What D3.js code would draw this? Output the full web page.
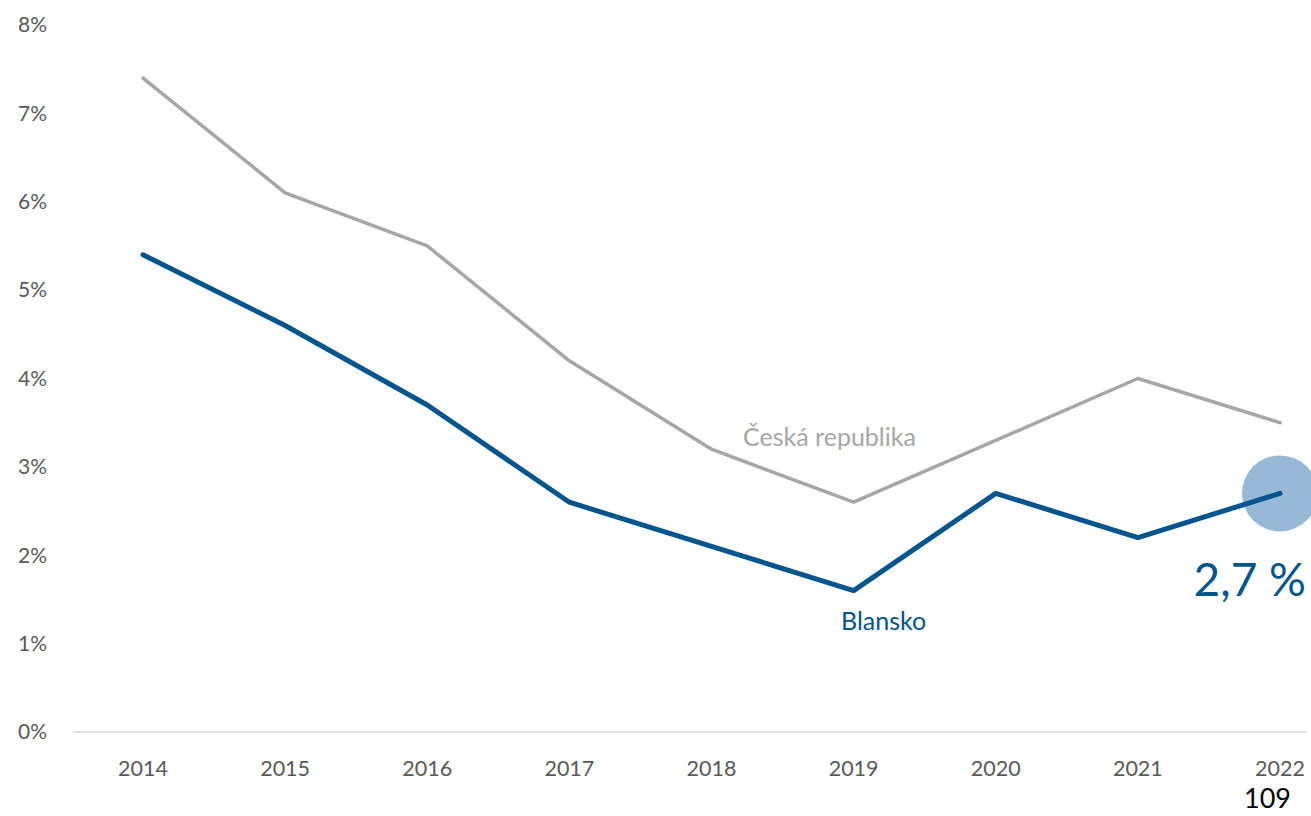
<!DOCTYPE html>
<html>
<head>
<meta charset="utf-8">
<script src="https://cdn.jsdelivr.net/npm/d3@7"></script>
<style>
  html, body { margin: 0; padding: 0; background: #fff; }
  svg { display: block; font-family: Lato, "Open Sans", sans-serif; }
</style>
</head>
<body>
<svg id="chart" width="1311" height="816"></svg>
<script>
// Unemployment share, 2014–2022
const years = [2014, 2015, 2016, 2017, 2018, 2019, 2020, 2021, 2022];
const ceskaRepublika = [7.4, 6.1, 5.5, 4.2, 3.2, 2.6, 3.3, 4.0, 3.5];
const blansko = [5.4, 4.6, 3.7, 2.6, 2.1, 1.6, 2.7, 2.2, 2.7];
const yTicks = [0, 1, 2, 3, 4, 5, 6, 7, 8];
const seriesNames = ["Česká republika", "Blansko"];
const lastValueLabel = "2,7 %";
const pageNumber = "109";

const svg = d3.select("#chart");

const x = d3.scalePoint().domain(years).range([143, 1280]);
const y = d3.scaleLinear().domain([0, 8]).range([732, 25]);

// baseline
svg.append("line")
  .attr("x1", 73).attr("x2", 1307)
  .attr("y1", y(0)).attr("y2", y(0))
  .attr("stroke", "#d9d9d9").attr("stroke-width", 1.5);

// y axis labels
svg.append("g").selectAll("text").data(yTicks).join("text")
  .attr("x", 47).attr("y", d => y(d))
  .attr("dy", "0.35em")
  .attr("text-anchor", "end")
  .attr("fill", "#595959")
  .attr("font-size", 21)
  .text(d => d + "%");

// x axis labels
svg.append("g").selectAll("text").data(years).join("text")
  .attr("x", d => x(d)).attr("y", 776)
  .attr("text-anchor", "middle")
  .attr("fill", "#595959")
  .attr("font-size", 21.5)
  .text(d => d);

const line = d3.line().x((d, i) => x(years[i])).y(d => y(d));

// highlight circle at final Blansko value
svg.append("circle")
  .attr("cx", x(years[years.length - 1]))
  .attr("cy", y(blansko[blansko.length - 1]))
  .attr("r", 38)
  .attr("fill", "#97b9d5");

svg.append("path").datum(ceskaRepublika)
  .attr("d", line)
  .attr("fill", "none")
  .attr("stroke", "#a6a6a6")
  .attr("stroke-width", 3.5)
  .attr("stroke-linejoin", "round")
  .attr("stroke-linecap", "round");

svg.append("path").datum(blansko)
  .attr("d", line)
  .attr("fill", "none")
  .attr("stroke", "#00558f")
  .attr("stroke-width", 5)
  .attr("stroke-linejoin", "round")
  .attr("stroke-linecap", "round");

// series labels
svg.append("text")
  .attr("x", x(2018) + 118).attr("y", 446)
  .attr("text-anchor", "middle")
  .attr("fill", "#a6a6a6")
  .attr("font-size", 25)
  .text(seriesNames[0]);

svg.append("text")
  .attr("x", x(2019) + 30).attr("y", 630)
  .attr("text-anchor", "middle")
  .attr("fill", "#00558f")
  .attr("font-size", 25)
  .text(seriesNames[1]);

// final value label
svg.append("text")
  .attr("x", 1306).attr("y", 596)
  .attr("text-anchor", "end")
  .attr("fill", "#00558f")
  .attr("font-size", 46)
  .text(lastValueLabel);

// page number
svg.append("text")
  .attr("x", 1291).attr("y", 808)
  .attr("text-anchor", "end")
  .attr("fill", "#000")
  .attr("font-size", 27)
  .text(pageNumber);
</script>
</body>
</html>
